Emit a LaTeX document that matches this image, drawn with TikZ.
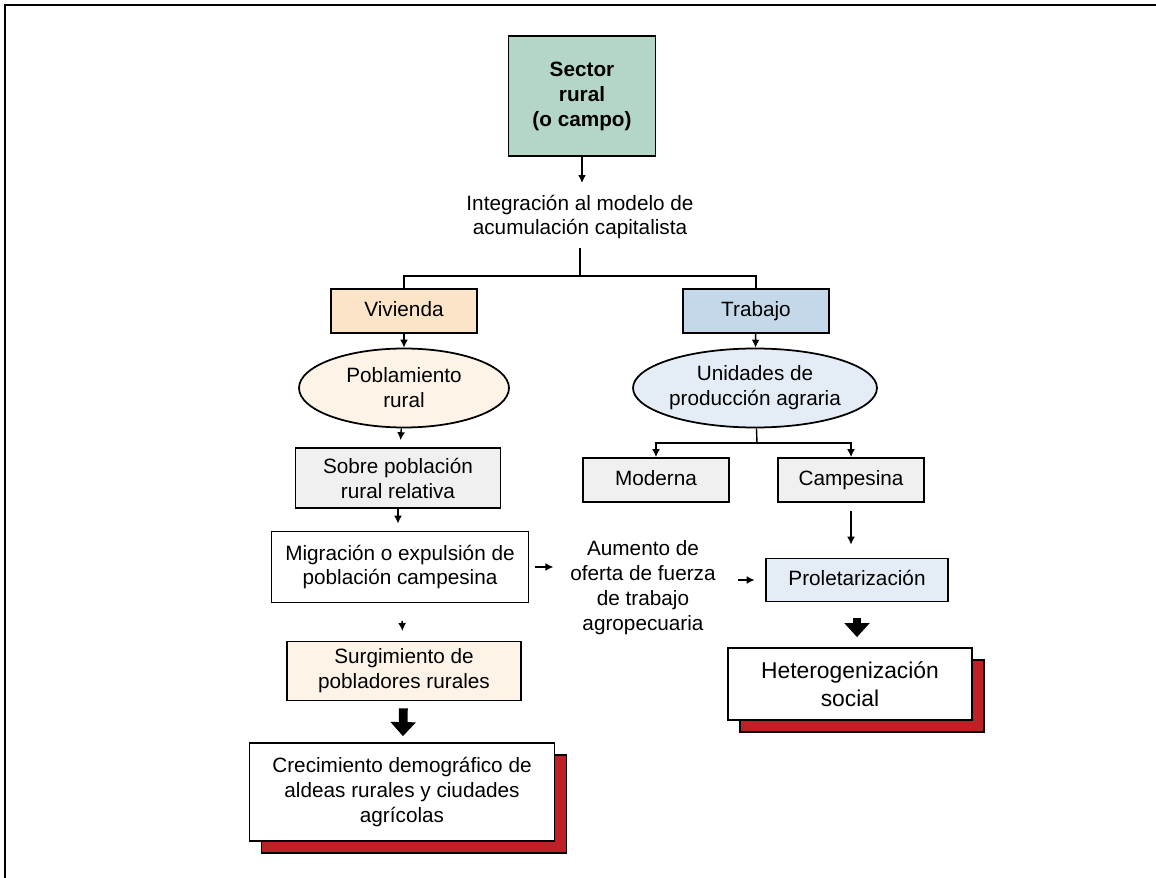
\documentclass[tikz,border=0pt]{standalone}
\usepackage{fontspec}
\setmainfont{Liberation Sans}
\usetikzlibrary{arrows.meta,shapes.geometric,shadows}

\definecolor{sectorgreen}{RGB}{180,214,199}
\definecolor{viviendaorange}{RGB}{251,228,199}
\definecolor{trabajoblue}{RGB}{197,216,234}
\definecolor{cream}{RGB}{253,243,231}
\definecolor{paleblue}{RGB}{228,236,246}
\definecolor{palegray}{RGB}{240,240,240}
\definecolor{shadowred}{RGB}{190,32,38}

\begin{document}
\begin{tikzpicture}[x=0.02cm, y=-0.02cm,
	txt/.style={align=center, font=\fontsize{11.8}{14.2}\selectfont},
	box/.style={txt, draw, line width=1pt, inner sep=0pt},
	onerow/.style={box, text height=1.7ex, text depth=0.45ex, minimum width=2.92cm, minimum height=0.88cm},
	oval/.style={box, ellipse},
	stack/.style={box, fill=white, drop shadow={shadow xshift=6.8pt, shadow yshift=-6.8pt, fill=shadowred, draw=black, line width=1pt, opacity=1}},
	arr/.style={-{Latex[length=4.5pt,width=4.5pt]}, line width=0.8pt},
	bigarr/.style={-{Triangle[length=8pt,width=14pt]}, line width=5pt},
]

\useasboundingbox (0,0) rectangle (1156,878);
\draw[line width=1pt] (5,878) -- (5,5) -- (1156,5);

\node[box, fill=sectorgreen, font=\fontsize{11.8}{14.2}\selectfont\bfseries, minimum width=2.94cm, minimum height=2.4cm] (sector) at (582,96) {Sector\\rural\\(o campo)};
\node[txt, inner sep=4.5pt] (integ) at (580,217) {Integración al modelo de\\acumulación capitalista};
\coordinate (split) at (580,276);

\node[onerow, fill=viviendaorange] (viv) at (404,311) {Vivienda};
\node[onerow, fill=trabajoblue] (trab) at (756,311) {Trabajo};

\node[oval, fill=cream, minimum width=4.2cm, minimum height=1.58cm] (pob) at (404,388) {Poblamiento\\rural};
\node[oval, fill=paleblue, minimum width=4.88cm, minimum height=1.58cm] (unid) at (755,388) {Unidades de\\producción agraria};
\coordinate (usplit) at (757,443);

\node[box, fill=palegray, minimum width=4.1cm, minimum height=1.2cm] (sobre) at (398,478) {Sobre población\\rural relativa};
\node[onerow, fill=palegray] (mod) at (656,480) {Moderna};
\node[onerow, fill=palegray] (camp) at (851,480) {Campesina};

\node[box, minimum width=5.14cm, minimum height=1.42cm] (mig) at (400,567) {Migración o expulsión de\\población campesina};
\node[txt, inner sep=4.5pt] (aum) at (643,588) {Aumento de\\oferta de fuerza\\de trabajo\\agropecuaria};
\node[onerow, fill=paleblue, minimum width=3.64cm, minimum height=0.86cm] (prol) at (857,580) {Proletarización};

\node[box, fill=cream, minimum width=4.68cm, minimum height=1.18cm] (surg) at (404,671) {Surgimiento de\\pobladores rurales};
\node[stack, font=\fontsize{13}{15.9}\selectfont, minimum width=4.88cm, minimum height=1.44cm] (het) at (850,684) {Heterogenización\\social};
\node[stack, minimum width=6.1cm, minimum height=1.96cm] (crec) at (402,792) {Crecimiento demográfico de\\aldeas rurales y ciudades\\agrícolas};

\draw[arr, shorten >=2pt] (sector.south) -- (sector.south |- integ.north);
\draw[line width=0.8pt] (integ) -- (split);
\draw[line width=0.8pt] (viv) |- (split) -| (trab);

\draw[arr] (viv) -- (pob);
\draw[arr] (trab) -- (unid);
\draw[arr, shorten >=4pt] (pob) -- (sobre);
\draw[arr, shorten >=4pt] (sobre.south) -- (sobre.south |- mig.north);
\draw[arr, shorten <=10pt, shorten >=5.5pt] (mig) -- (surg);

\draw[line width=0.8pt] (unid) -- (usplit);
\draw[arr] (usplit) -| (mod);
\draw[arr] (usplit) -| (camp);
\draw[arr, shorten <=4.5pt, shorten >=7.4pt] (camp.south) -- (camp.south |- prol.north);

\draw[arr, shorten <=3.4pt, shorten >=5pt] (mig.east) -- (mig.east -| aum.west);
\draw[arr, shorten <=8pt, shorten >=6pt] (prol.west -| aum.east) -- (prol.west);

\draw[bigarr, shorten <=9pt, shorten >=5.7pt] (prol) -- (prol |- het.north);
\draw[bigarr, shorten <=4pt, shorten >=3.4pt] (surg) -- (crec);

\end{tikzpicture}
\end{document}
